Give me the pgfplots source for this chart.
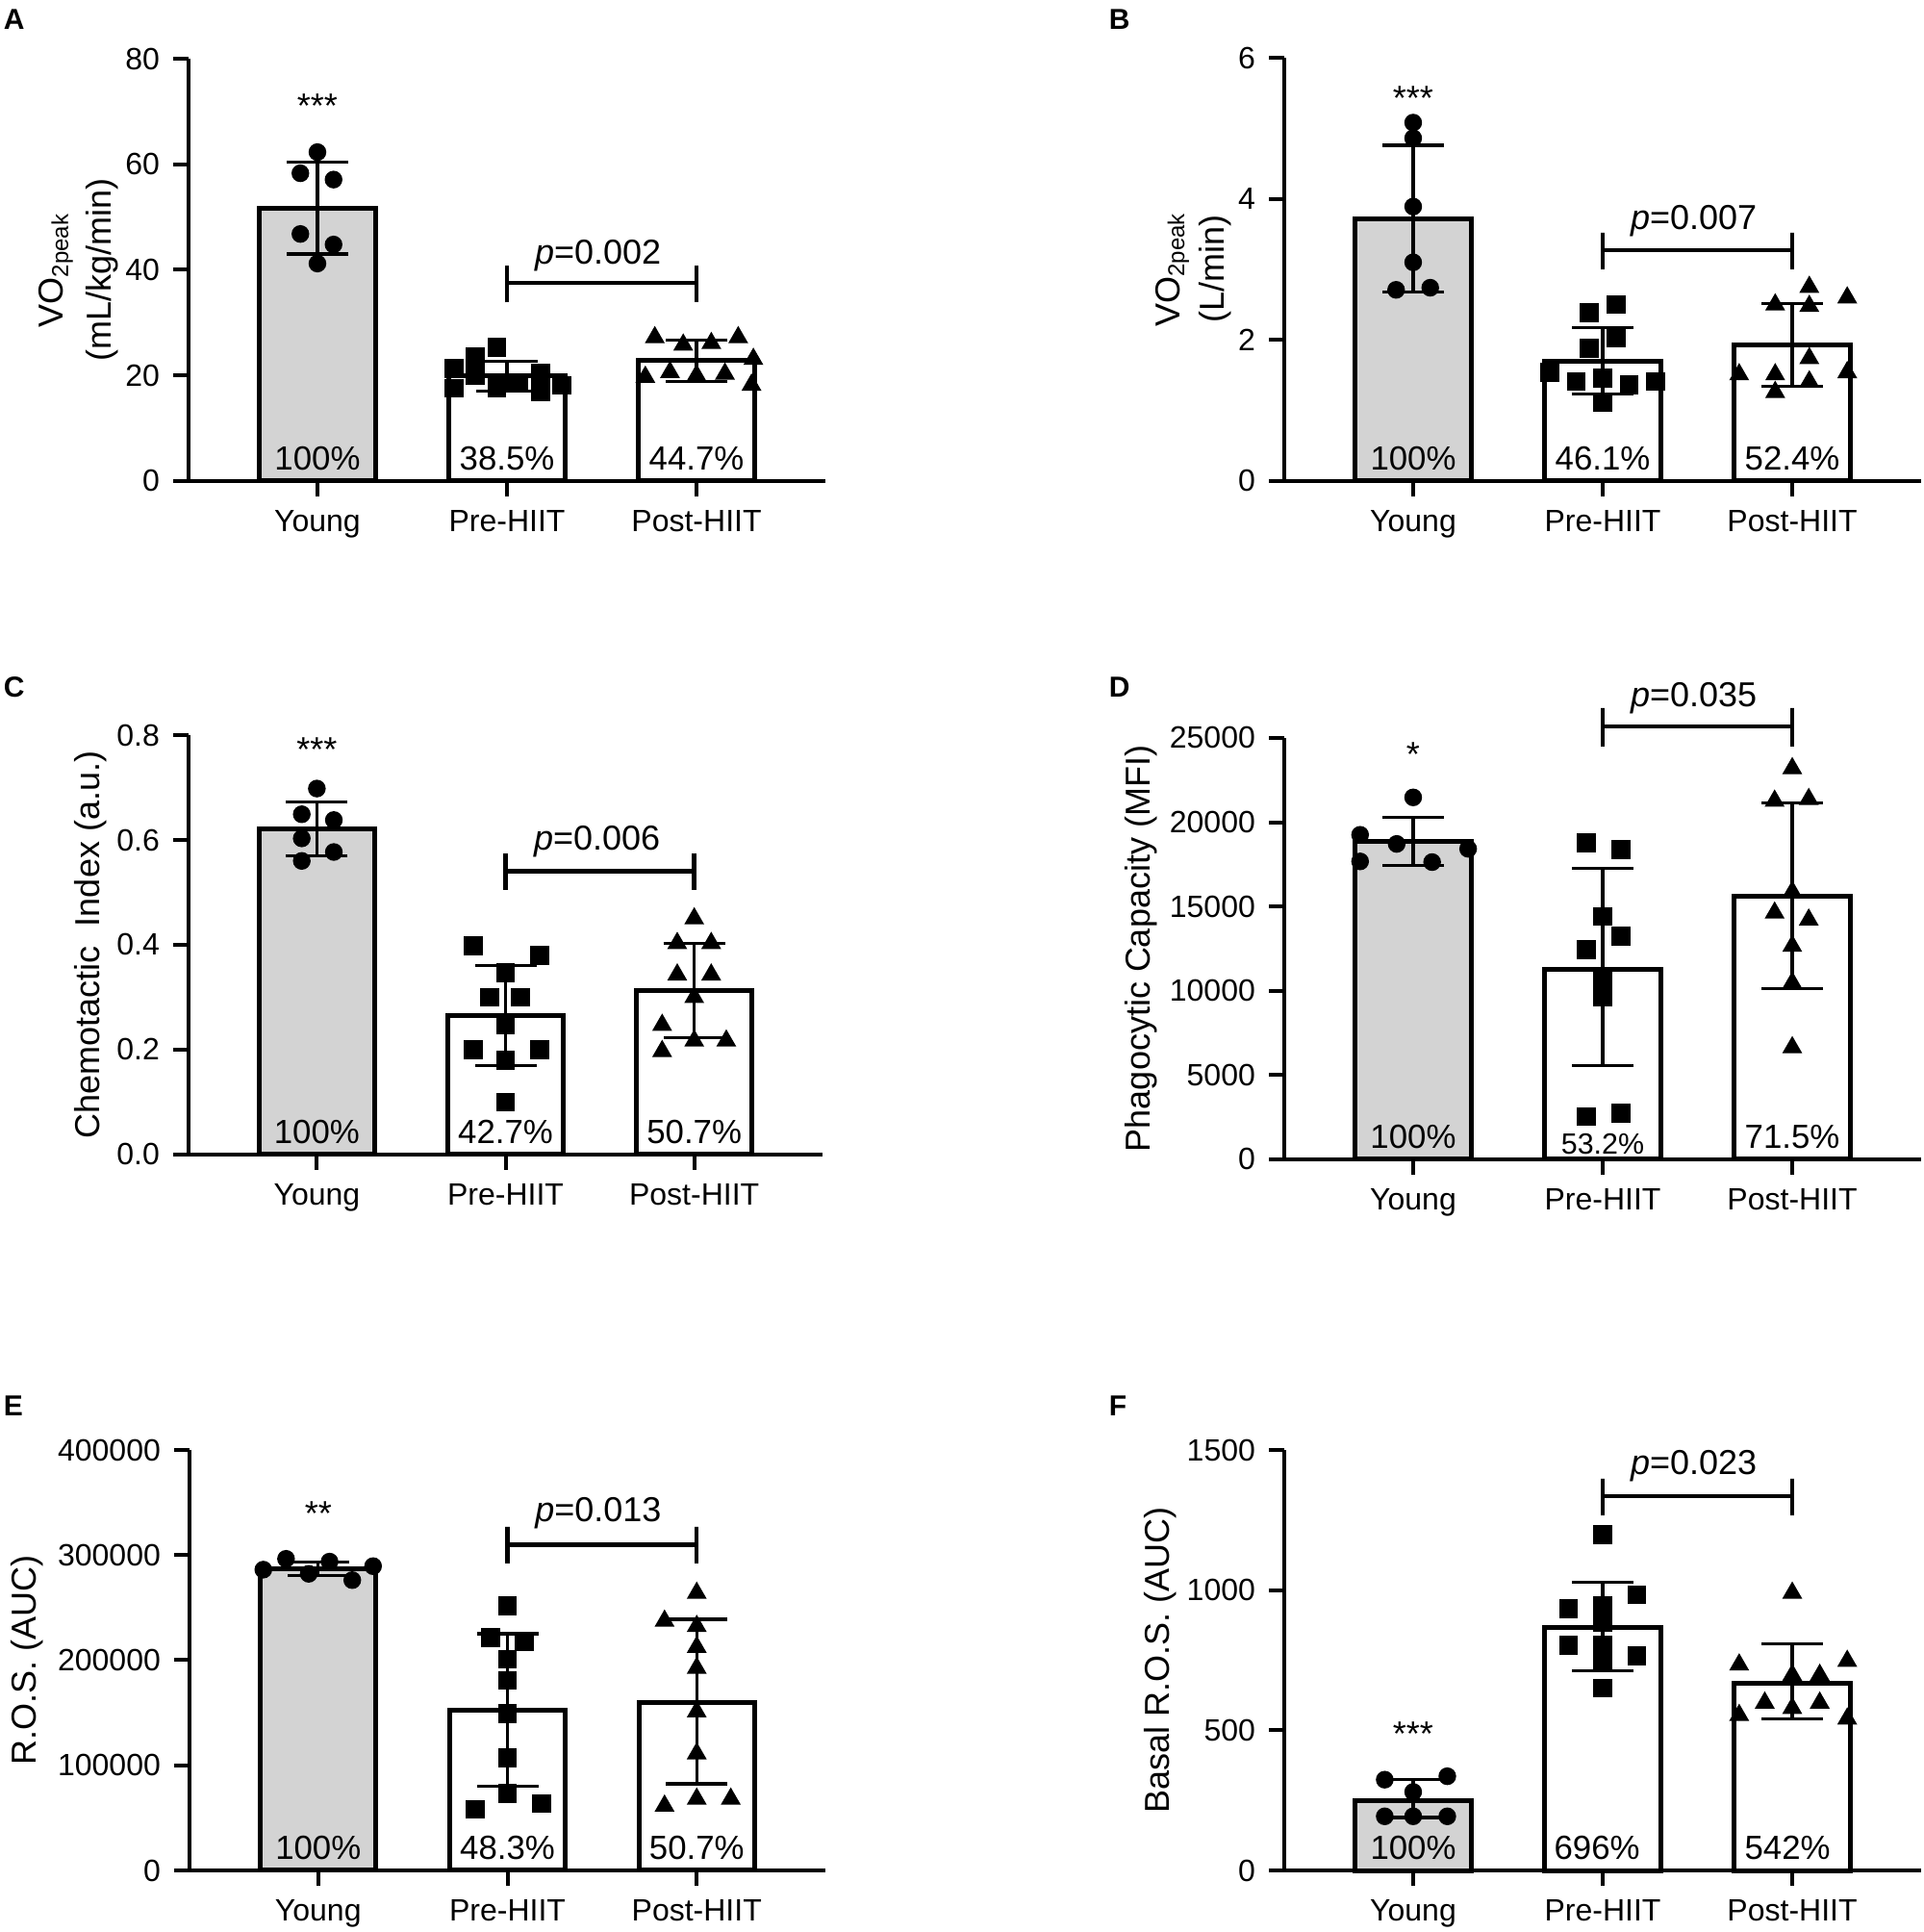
\documentclass[border=0pt]{standalone}
\usepackage{fontspec}
\setmainfont{Liberation Sans}
\usepackage{pgfplots}
\pgfplotsset{compat=1.18}
\definecolor{barg}{RGB}{211,211,211}
\pgfplotsset{
  panel/.style={
    scale only axis, anchor=south west,
    axis lines=left, axis line style={line width=1pt, -},
    xmin=-0.68, xmax=2.68, ymin=0,
    xtick={0,1,2}, xticklabels={Young,Pre-HIIT,Post-HIIT},
    tick align=outside, major tick length=4pt,
    tick style={line width=1pt, black},
    x tick label style={font=\fontsize{8}{9.6}\selectfont},
    y tick label style={font=\fontsize{8}{9.6}\selectfont},
    /pgf/number format/assume math mode=true,
    /pgf/number format/fixed,
    /pgf/number format/1000 sep={},
    scaled y ticks=false,
    clip=false,
    ylabel style={font=\fontsize{9}{12.5}\selectfont, align=center, anchor=center},
  },
  bars/.style={ybar, bar width=0.61, bar shift=0pt, draw=black, line width=1.25pt, forget plot},
  ebar/.style={draw=none, mark=none, forget plot, error bars/.cd, y dir=both, y explicit,
     error bar style={draw=black, line width=0.8pt},
     error mark options={rotate=90, mark size=8pt, line width=0.8pt, black}},
  circ/.style={only marks, mark=*, mark size=2.1pt, black, forget plot},
  sq/.style={only marks, mark=square*, mark size=2.25pt, black, forget plot},
  tri/.style={only marks, mark=triangle*, mark size=2.6pt, black, forget plot},
  brk/.style={black, line width=1.1pt, mark=none, forget plot},
}
\newcommand{\pct}[3][\fontsize{8.7}{10}\selectfont]{\node[anchor=base, font=#1, yshift=2.75pt] at (axis cs:#2,0) {#3};}
\newcommand{\ptxt}[3]{\node[anchor=base, font=\fontsize{9}{10}\selectfont] at (axis cs:#1,#2) {\textit{p}=#3};}
\newcommand{\sig}[3]{\node[anchor=base, font=\fontsize{9}{10}\selectfont] at (axis cs:#1,#2) {#3};}
\begin{document}
\begin{tikzpicture}
\useasboundingbox (0,0) rectangle (499.75pt,502pt);
\node[anchor=west, font=\bfseries\fontsize{7.5}{9}\selectfont, inner sep=0pt] at (0.75pt,497pt) {A};
\node[anchor=west, font=\bfseries\fontsize{7.5}{9}\selectfont, inner sep=0pt] at (288pt,497pt) {B};
\node[anchor=west, font=\bfseries\fontsize{7.5}{9}\selectfont, inner sep=0pt] at (0.75pt,323.5pt) {C};
\node[anchor=west, font=\bfseries\fontsize{7.5}{9}\selectfont, inner sep=0pt] at (288pt,323.5pt) {D};
\node[anchor=west, font=\bfseries\fontsize{7.5}{9}\selectfont, inner sep=0pt] at (0.75pt,136.75pt) {E};
\node[anchor=west, font=\bfseries\fontsize{7.5}{9}\selectfont, inner sep=0pt] at (288pt,136.75pt) {F};

% ---------------- A
\begin{axis}[panel, at={(49pt,377pt)}, width=165.5pt, height=109.75pt,
  ymax=80, ytick={0,20,40,60,80},
  ylabel={VO\textsubscript{2peak}\\(mL/kg/min)},
  ylabel style={at={(axis description cs:-0.172,0.5)}}]
\addplot[bars, fill=barg] coordinates {(0,51.7)};
\addplot[bars, fill=white] coordinates {(1,19.9)};
\addplot[bars, fill=white] coordinates {(2,22.8)};
\addplot[circ] coordinates {(0,62.3) (-0.09,58.3) (0.085,57.1) (-0.09,46.8) (0.085,44.8) (0,41.2)};
\addplot[sq] coordinates {(0.946,25.3) (0.833,23.6) (0.72,21.3) (0.72,17.6) (0.833,20.0) (0.946,17.7) (1.06,18.6) (1.178,20.5) (1.178,16.9) (1.29,18.1)};
\addplot[tri] coordinates {(1.78,27.2) (1.93,25.8) (2.078,26.1) (2.22,27.2) (2.30,23.1) (1.73,19.7) (1.86,20.6) (2.0,20.0) (2.15,20.3) (2.29,18.2)};
\addplot[ebar] coordinates {(0,51.7) +- (0,8.7) (1,19.9) +- (0,2.85) (2,22.8) +- (0,3.9)};
\addplot[brk] coordinates {(1,33.8) (1,40.8) (1,37.5) (2,37.5) (2,40.8) (2,33.8)};
\ptxt{1.48}{41.1}{0.002}
\sig{0}{68.7}{***}
\pct{0}{100\%} \pct{1}{38.5\%} \pct{2}{44.7\%}
\end{axis}

% ---------------- B
\begin{axis}[panel, at={(333.75pt,377pt)}, width=165.5pt, height=110pt,
  ymax=6, ytick={0,2,4,6},
  ylabel={VO\textsubscript{2peak}\\(L/min)},
  ylabel style={at={(axis description cs:-0.143,0.5)}, font=\fontsize{9}{11.5}\selectfont}]
\addplot[bars, fill=barg] coordinates {(0,3.72)};
\addplot[bars, fill=white] coordinates {(1,1.70)};
\addplot[bars, fill=white] coordinates {(2,1.93)};
\addplot[circ] coordinates {(0,5.08) (0,4.86) (0,3.89) (0,3.10) (-0.09,2.71) (0.09,2.74)};
\addplot[sq] coordinates {(1.07,2.50) (0.93,2.39) (1.07,2.03) (0.93,1.88) (0.72,1.54) (0.86,1.41) (1,1.46) (1.14,1.36) (1.28,1.41) (1,1.12)};
\addplot[tri] coordinates {(2.09,2.75) (2.29,2.60) (1.91,2.50) (2.09,2.48) (2.09,1.74) (1.72,1.51) (1.91,1.51) (2.29,1.54) (2.09,1.41) (1.91,1.26)};
\addplot[ebar] coordinates {(0,3.72) +- (0,1.04) (1,1.70) +- (0,0.47) (2,1.93) +- (0,0.59)};
\addplot[brk] coordinates {(1,3.0) (1,3.52) (1,3.27) (2,3.27) (2,3.52) (2,3.0)};
\ptxt{1.48}{3.57}{0.007}
\sig{0}{5.26}{***}
\pct{0}{100\%} \pct{1}{46.1\%} \pct{2}{52.4\%}
\end{axis}

% ---------------- C
\begin{axis}[panel, at={(49pt,202pt)}, width=164.75pt, height=109pt,
  ymax=0.8, ytick={0,0.2,0.4,0.6,0.8},
  yticklabel style={/pgf/number format/.cd, fixed, fixed zerofill, precision=1},
  ylabel={Chemotactic\ \ Index (a.u.)},
  ylabel style={at={(axis description cs:-0.155,0.5)}}]
\addplot[bars, fill=barg] coordinates {(0,0.621)};
\addplot[bars, fill=white] coordinates {(1,0.265)};
\addplot[bars, fill=white] coordinates {(2,0.313)};
\addplot[circ] coordinates {(0,0.698) (-0.08,0.649) (0.09,0.638) (-0.08,0.603) (0.09,0.577) (-0.08,0.56)};
\addplot[sq] coordinates {(0.83,0.398) (1.18,0.38) (1,0.347) (0.915,0.30) (1.08,0.30) (1,0.247) (0.83,0.20) (1.18,0.20) (1,0.18) (1,0.10)};
\addplot[tri] coordinates {(2,0.45) (1.91,0.403) (2.09,0.403) (1.91,0.343) (2.09,0.343) (2,0.30) (1.83,0.247) (2,0.217) (2.17,0.217) (1.83,0.197)};
\addplot[ebar] coordinates {(0,0.621) +- (0,0.051) (1,0.265) +- (0,0.096) (2,0.313) +- (0,0.09)};
\addplot[brk] coordinates {(1,0.505) (1,0.574) (1,0.540) (2,0.540) (2,0.574) (2,0.505)};
\ptxt{1.485}{0.58}{0.006}
\sig{0}{0.749}{***}
\pct{0}{100\%} \pct{1}{42.7\%} \pct{2}{50.7\%}
\end{axis}

% ---------------- D
\begin{axis}[panel, at={(333.75pt,200.75pt)}, width=165.5pt, height=109.5pt,
  ymax=25000, ytick={0,5000,10000,15000,20000,25000},
  ylabel={Phagocytic Capacity (MFI)},
  ylabel style={at={(axis description cs:-0.225,0.5)}}]
\addplot[bars, fill=barg] coordinates {(0,18850)};
\addplot[bars, fill=white] coordinates {(1,11300)};
\addplot[bars, fill=white] coordinates {(2,15600)};
\addplot[circ] coordinates {(0,21473) (-0.28,19253) (-0.087,18714) (0.29,18423) (-0.28,17676) (0.10,17635)};
\addplot[sq] coordinates {(0.913,18776) (1.096,18361) (1,14419) (1.096,13237) (0.913,12448) (1,10580) (1,9647) (0.913,2531) (1.096,2738)};
\addplot[tri] coordinates {(2,23195) (1.907,21266) (2.087,21369) (2,15871) (1.907,14627) (2.087,14212) (2,12656) (2,10477) (2,6639)};
\addplot[ebar] coordinates {(0,18850) +- (0,1430) (1,11400) +- (0,5850) (2,15650) +- (0,5500)};
\addplot[brk] coordinates {(1,24486) (1,26770) (1,25685) (2,25685) (2,26770) (2,24486)};
\ptxt{1.48}{26855}{0.035}
\sig{0}{23288}{*}
\pct{0}{100\%} \node[anchor=base, font=\fontsize{7.6}{9}\selectfont, yshift=1.25pt] at (axis cs:1,0) {53.2\%}; \pct{2}{71.5\%}
\end{axis}

% ---------------- E
\begin{axis}[panel, at={(49.25pt,16pt)}, width=165.25pt, height=109.25pt,
  ymax=400000, ytick={0,100000,200000,300000,400000},
  ylabel={R.O.S. (AUC)},
  ylabel style={at={(axis description cs:-0.256,0.5)}}]
\addplot[bars, fill=barg] coordinates {(0,287000)};
\addplot[bars, fill=white] coordinates {(1,152000)};
\addplot[bars, fill=white] coordinates {(2,159500)};
\addplot[circ] coordinates {(-0.29,286141) (-0.17,296432) (-0.05,282158) (0.06,293776) (0.18,276183) (0.29,289461)};
\addplot[sq] coordinates {(1,251618) (0.91,221743) (1.09,217427) (1,200830) (1,180913) (1,149378) (1,106888) (1,73029) (0.83,58091) (1.18,63734)};
\addplot[tri] coordinates {(2,263900) (1.83,237344) (2,232365) (2,212448) (2,192531) (2,151037) (2,111203) (2,68050) (1.83,61411) (2.18,68050)};
\addplot[ebar] coordinates {(0,287000) +- (0,6600) (1,152700) +- (0,72400) (2,160600) +- (0,78300)};
\addplot[brk] coordinates {(1,292200) (1,327000) (1,309700) (2,309700) (2,327000) (2,292200)};
\ptxt{1.48}{332265}{0.013}
\sig{0}{327700}{**}
\pct{0}{100\%} \pct{1}{48.3\%} \pct{2}{50.7\%}
\end{axis}

% ---------------- F
\begin{axis}[panel, at={(333.75pt,16pt)}, width=165.5pt, height=109.25pt,
  ymax=1500, ytick={0,500,1000,1500},
  ylabel={Basal R.O.S. (AUC)},
  ylabel style={at={(axis description cs:-0.195,0.5)}}]
\addplot[bars, fill=barg] coordinates {(0,250)};
\addplot[bars, fill=white] coordinates {(1,865)};
\addplot[bars, fill=white] coordinates {(2,668)};
\addplot[circ] coordinates {(-0.15,323.7) (0.18,336) (0,280) (-0.15,193) (0,193) (0.18,193)};
\addplot[sq] coordinates {(1,1197.5) (1.18,983) (0.82,934) (1,946) (1,884) (0.82,803) (1,803) (1.18,766) (1,749) (1,650)};
\addplot[tri] coordinates {(2,990) (1.72,734) (2.29,747) (2,697) (2.145,697) (1.855,598) (2,579) (2.145,598) (1.72,554) (2.29,541)};
\addplot[ebar] coordinates {(0,256) +- (0,67) (1,869.5) +- (0,157.5) (2,675) +- (0,134)};
\addplot[brk] coordinates {(1,1267) (1,1397) (1,1334.6) (2,1334.6) (2,1397) (2,1267)};
\ptxt{1.48}{1414}{0.023}
\sig{0}{446}{***}
\pct{0}{100\%} \pct{0.97}{696\%} \pct{1.975}{542\%}
\end{axis}
\end{tikzpicture}
\end{document}
